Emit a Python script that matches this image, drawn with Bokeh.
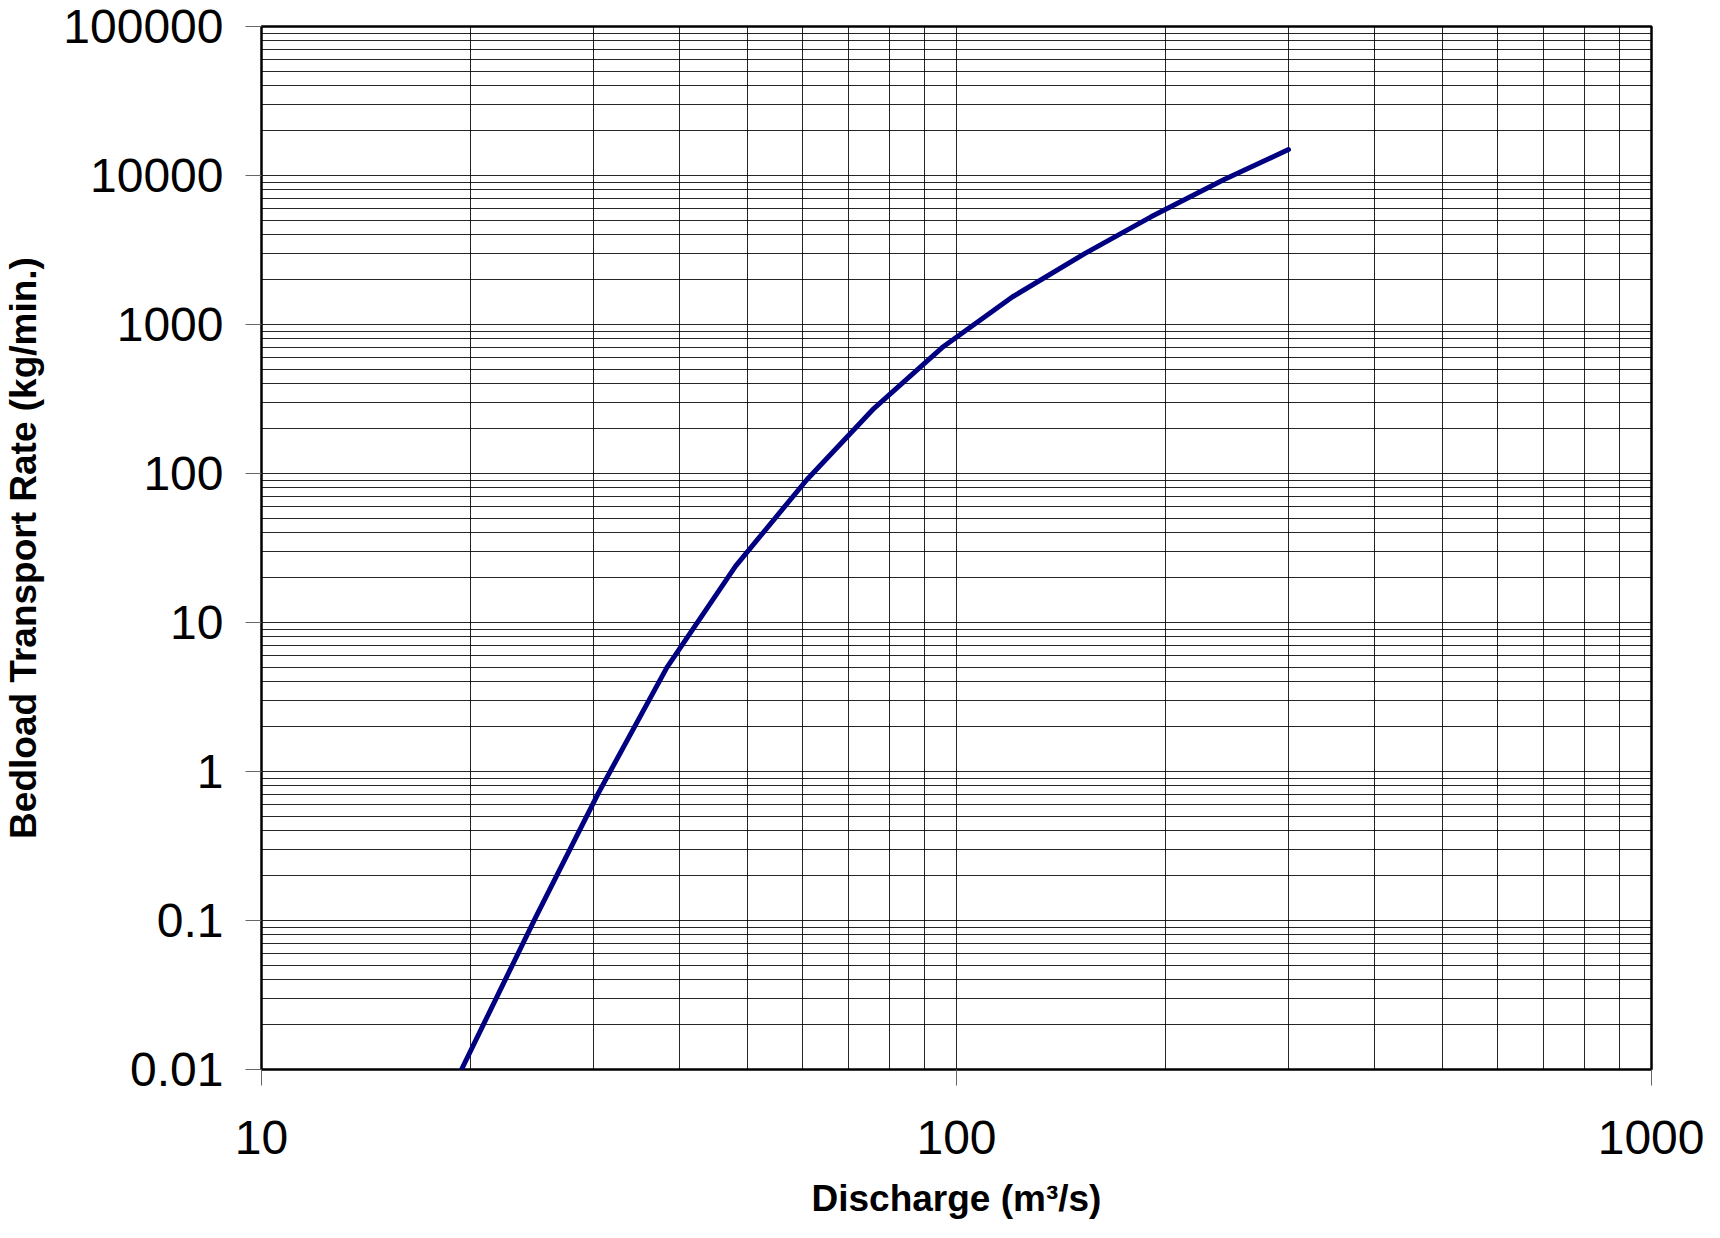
from bokeh.plotting import figure
from bokeh.models import FixedTicker, CustomJSTickFormatter
from bokeh.embed import file_html
from bokeh.resources import INLINE

# ---- data ----
discharge = [19.4, 24.8, 30.5, 38.3, 48.1, 60.9, 76.1, 95.7, 120.3, 152.9, 190.2, 242.3, 300.4]
bedload_rate = [0.01, 0.105, 0.71, 4.98, 23.9, 90.8, 274, 710, 1530, 2990, 5260, 9350, 14940]

x_ticks = [10, 100, 1000]
x_tick_labels = ["10", "100", "1000"]
x_minor_ticks = [20, 30, 40, 50, 60, 70, 80, 90, 200, 300, 400, 500, 600, 700, 800, 900]

y_ticks = [0.01, 0.1, 1, 10, 100, 1000, 10000, 100000]
y_tick_labels = ["0.01", "0.1", "1", "10", "100", "1000", "10000", "100000"]
y_minor_ticks = [
    0.02, 0.03, 0.04, 0.05, 0.06, 0.07, 0.08, 0.09,
    0.2, 0.3, 0.4, 0.5, 0.6, 0.7, 0.8, 0.9,
    2, 3, 4, 5, 6, 7, 8, 9,
    20, 30, 40, 50, 60, 70, 80, 90,
    200, 300, 400, 500, 600, 700, 800, 900,
    2000, 3000, 4000, 5000, 6000, 7000, 8000, 9000,
    20000, 30000, 40000, 50000, 60000, 70000, 80000, 90000,
]

x_title = "Discharge (m\u00b3/s)"
y_title = "Bedload Transport Rate (kg/min.)"

FONT = "Liberation Sans"

p = figure(
    x_axis_type="log", y_axis_type="log",
    x_range=(10, 1000), y_range=(0.01, 100000),
    width=1704, height=1222,
    min_border_left=258, min_border_right=53,
    min_border_top=26, min_border_bottom=153,
    output_backend="svg", toolbar_location=None,
    background_fill_color="white", border_fill_color="white",
)

p.outline_line_color = "black"
p.outline_line_width = 2.5

lookup_code = """
let best = -1;
for (let i = 0; i < vals.length; i++) {
  if (Math.abs(Math.log10(vals[i]) - Math.log10(tick)) < 1e-6) { best = i; }
}
return best >= 0 ? labels[best] : "";
"""

xa = p.xaxis[0]
xa.ticker = FixedTicker(ticks=x_ticks, minor_ticks=x_minor_ticks)
xa.formatter = CustomJSTickFormatter(args=dict(vals=x_ticks, labels=x_tick_labels), code=lookup_code)
ya = p.yaxis[0]
ya.ticker = FixedTicker(ticks=y_ticks, minor_ticks=y_minor_ticks)
ya.formatter = CustomJSTickFormatter(args=dict(vals=y_ticks, labels=y_tick_labels), code=lookup_code)

for ax in (xa, ya):
    ax.axis_line_color = None
    ax.major_tick_line_color = "#666666"
    ax.major_tick_line_width = 1
    ax.major_tick_in = 0
    ax.major_tick_out = 16
    ax.minor_tick_in = 0
    ax.minor_tick_out = 0
    ax.minor_tick_line_color = None
    ax.major_label_text_font = FONT
    ax.major_label_text_font_size = "48px"
    ax.major_label_text_color = "black"
    ax.axis_label_text_font = FONT
    ax.axis_label_text_font_size = "37px"
    ax.axis_label_text_font_style = "bold"
    ax.axis_label_text_color = "black"

xa.axis_label = x_title
ya.axis_label = y_title
xa.major_label_standoff = 35
xa.axis_label_standoff = 21
ya.major_label_standoff = 22
ya.axis_label_standoff = 16

for g in (p.xgrid[0], p.ygrid[0]):
    g.grid_line_color = "black"
    g.grid_line_alpha = 0.85
    g.grid_line_width = 1
    g.minor_grid_line_color = "black"
    g.minor_grid_line_alpha = 0.85
    g.minor_grid_line_width = 1

p.line(discharge, bedload_rate, line_color="#000080", line_width=5, line_join="round", line_cap="round")

open("out.html", "w").write(file_html(p, INLINE))
